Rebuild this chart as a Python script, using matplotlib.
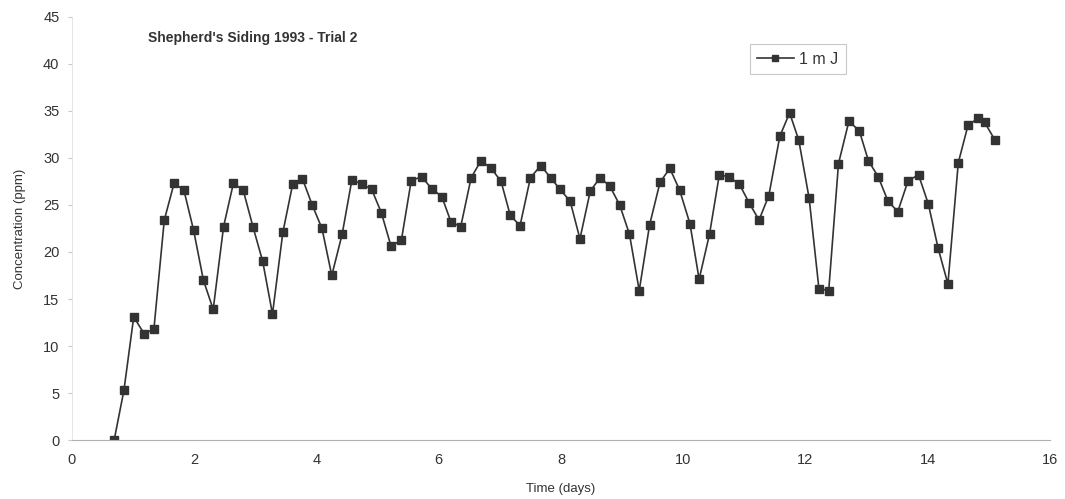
import matplotlib
matplotlib.use("Agg")
import matplotlib.pyplot as plt

time_days = [0.69, 0.85, 1.01, 1.18, 1.34, 1.51, 1.67, 1.83, 1.99, 2.15,
             2.31, 2.48, 2.64, 2.80, 2.96, 3.12, 3.28, 3.45, 3.61, 3.77,
             3.93, 4.09, 4.25, 4.42, 4.58, 4.74, 4.90, 5.06, 5.22, 5.39,
             5.55, 5.72, 5.89, 6.05, 6.20, 6.36, 6.53, 6.69, 6.86, 7.02,
             7.17, 7.33, 7.50, 7.67, 7.83, 7.98, 8.15, 8.31, 8.48, 8.64,
             8.80, 8.96, 9.12, 9.28, 9.45, 9.62, 9.78, 9.94, 10.11, 10.26,
             10.43, 10.59, 10.75, 10.92, 11.08, 11.24, 11.40, 11.58, 11.74, 11.89,
             12.06, 12.22, 12.38, 12.54, 12.71, 12.88, 13.03, 13.19, 13.35, 13.51,
             13.68, 13.85, 14.01, 14.17, 14.33, 14.50, 14.66, 14.82, 14.93, 15.10]
conc_1mJ = [0.0, 5.3, 13.1, 11.3, 11.8, 23.4, 27.3, 26.6, 22.3, 17.0,
            13.9, 22.7, 27.3, 26.6, 22.7, 19.0, 13.4, 22.1, 27.2, 27.8,
            25.0, 22.5, 17.5, 21.9, 27.7, 27.2, 26.7, 24.2, 20.6, 21.3,
            27.6, 28.0, 26.7, 25.9, 23.2, 22.7, 27.9, 29.7, 28.9, 27.5,
            23.9, 22.8, 27.9, 29.2, 27.9, 26.7, 25.4, 21.4, 26.5, 27.9,
            27.0, 25.0, 21.9, 15.9, 22.9, 27.4, 28.9, 26.6, 23.0, 17.1,
            21.9, 28.2, 28.0, 27.2, 25.2, 23.4, 26.0, 32.3, 34.8, 31.9,
            25.7, 16.1, 15.9, 29.4, 33.9, 32.9, 29.7, 28.0, 25.4, 24.3,
            27.6, 28.2, 25.1, 20.4, 16.6, 29.5, 33.5, 34.2, 33.8, 31.9]

title = "Shepherd's Siding 1993 - Trial 2"
series_label = "1 m J"
x_ticks = [0, 2, 4, 6, 8, 10, 12, 14, 16]
y_ticks = [0, 5, 10, 15, 20, 25, 30, 35, 40, 45]

plt.rcParams['font.family'] = ['Liberation Sans', 'DejaVu Sans']

fig = plt.figure(figsize=(10.65, 4.99), dpi=100)
ax = fig.add_axes([0.0676, 0.1182, 0.9183, 0.8478])

ax.plot(time_days, conc_1mJ, color='#333333', lw=1.2, marker='s',
        markersize=5.5, markerfacecolor='#333333', markeredgecolor='#333333',
        label=series_label)

ax.set_xlim(0, 16)
ax.set_ylim(0, 45)
ax.set_xticks(x_ticks)
ax.set_yticks(y_ticks)

for s in ['top', 'right']:
    ax.spines[s].set_visible(False)
ax.spines['left'].set_color('#e0e0e0')
ax.spines['left'].set_linewidth(0.6)
ax.spines['bottom'].set_color('#b0b0b0')
ax.spines['bottom'].set_linewidth(0.8)

ax.tick_params(axis='y', length=3, color='#c8c8c8', labelsize=10.5,
               labelcolor='#333333', pad=6)
ax.tick_params(axis='x', length=0, labelsize=10.5, labelcolor='#333333', pad=9)

ax.set_xlabel('Time (days)', fontsize=9.5, color='#333333', labelpad=12)
ax.set_ylabel('Concentration (ppm)', fontsize=9.5, color='#333333', labelpad=12)

ax.text(0.078, 0.967, title, transform=ax.transAxes, fontsize=10,
        fontweight='bold', color='#333333', va='top', ha='left')

leg = ax.legend(loc='upper left', bbox_to_anchor=(0.693, 0.935), frameon=True,
                fancybox=False, fontsize=11.5, handlelength=2.3,
                handletextpad=0.35, borderpad=0.45, borderaxespad=0,
                markerscale=0.75)
leg.get_frame().set_edgecolor('#bbbbbb')
leg.get_frame().set_linewidth(0.8)
for t in leg.get_texts():
    t.set_color('#333333')

fig.savefig('out.png', dpi=100, facecolor='white')
